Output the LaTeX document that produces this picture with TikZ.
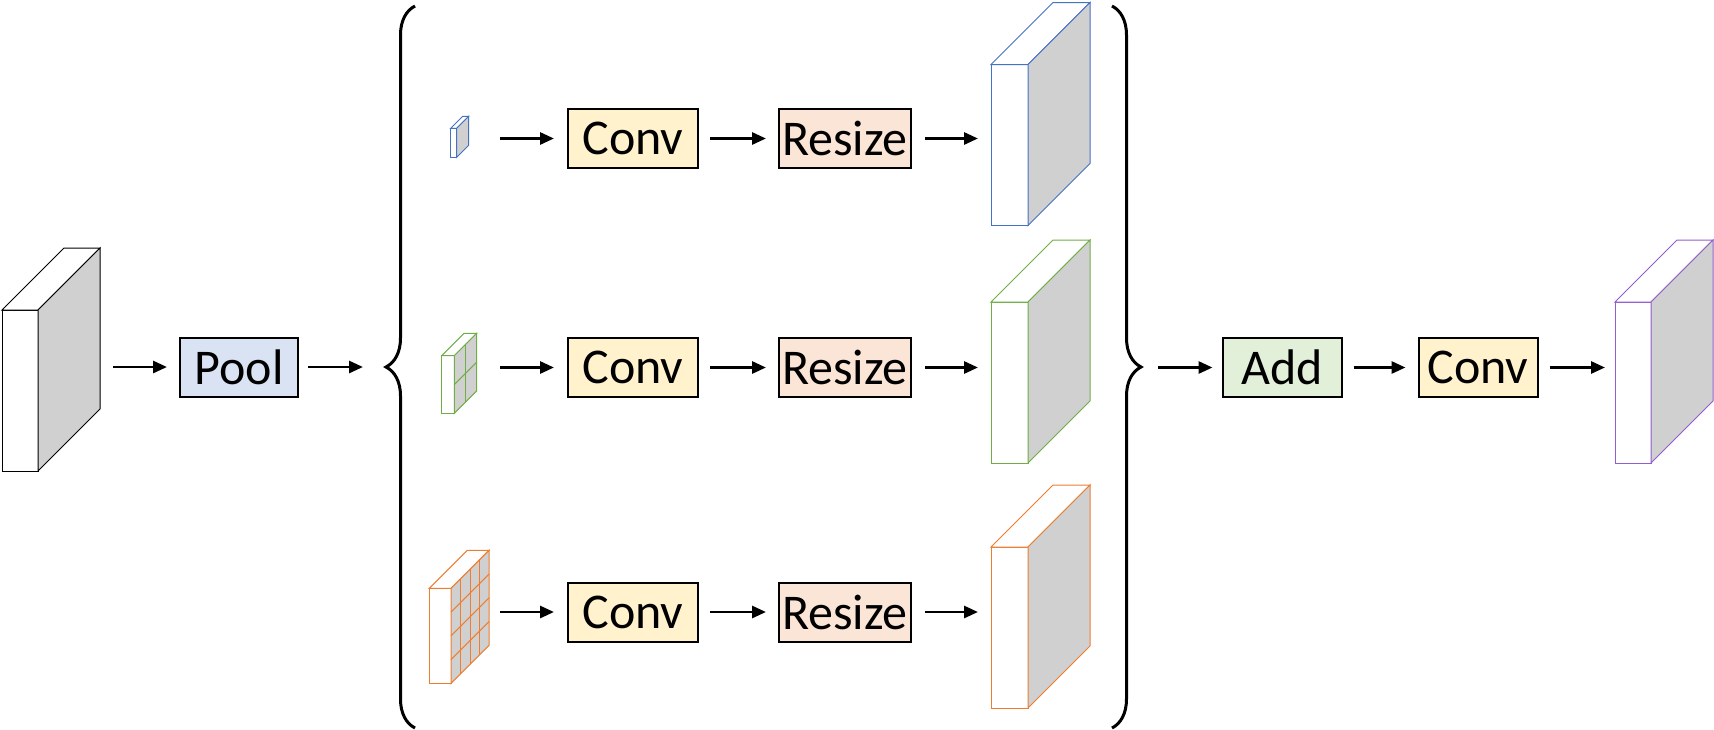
\documentclass[tikz,border=0pt]{standalone}
\usepackage{fontspec}
\setmainfont{Carlito}
\usepackage{tikz}
\usetikzlibrary{arrows.meta, decorations.pathreplacing}

\definecolor{poolblue}{RGB}{218,227,243}
\definecolor{convyellow}{RGB}{255,242,204}
\definecolor{resizered}{RGB}{251,229,214}
\definecolor{addgreen}{RGB}{226,240,217}
\definecolor{sidegray}{RGB}{208,208,208}
\definecolor{mapblue}{RGB}{68,114,196}
\definecolor{mapgreen}{RGB}{112,173,71}
\definecolor{maporange}{RGB}{237,125,49}
\definecolor{mappurple}{RGB}{146,94,204}

% 特徴マップ: x0, y0, 幅, 高さ, 奥行き, 色, 分割数
\newcommand{\fmap}[7]{%
  \begin{scope}[draw=#6, line width=0.5pt]
    \filldraw[fill=white] (#1,#2) rectangle ++(#3,#4);
    \filldraw[fill=white] (#1,#2) -- ++(#5,-#5) -- ++(#3,0) -- ++(-#5,#5) -- cycle;
    \filldraw[fill=sidegray] (#1+#3,#2) -- ++(#5,-#5) -- ++(0,#4) -- ++(-#5,#5) -- cycle;
    \ifnum#7>1
      \pgfmathtruncatemacro{\nsub}{#7-1}
      \foreach \i in {1,...,\nsub} {
        \draw (#1+#3+\i*#5/#7, #2-\i*#5/#7) -- ++(0,#4);
        \draw (#1+#3, #2+\i*#4/#7) -- ++(#5,-#5);
      }
    \fi
  \end{scope}}

\tikzset{
  opbox/.style={draw, line width=1pt, inner sep=0pt, minimum height=29.5pt,
    font=\fontsize{25}{29}\selectfont},
  arr/.style={-{Triangle[length=7pt,width=6pt]}, line width=1.4pt},
  gap/.style={shorten <=5.5pt, shorten >=6pt},
  bracket/.style={line width=1.5pt, decorate, decoration={brace, amplitude=14.5pt}}
}

\begin{document}
\begin{tikzpicture}[x=0.5pt, y=-0.5pt]
  \useasboundingbox (0,0) rectangle (1714,729);

  % 入力
  \fmap{2}{310}{36}{161}{62}{black}{1}
  \coordinate (inmap) at (113,367);
  \node[opbox, fill=poolblue, minimum width=59pt] (pool) at (239,367) {Pool};
  \coordinate (splitin) at (363,367);
  \draw[arr, shorten >=6pt] (inmap) -- (pool);
  \draw[arr, shorten <=4.5pt] (pool) -- (splitin);

  % 括弧
  \draw[bracket] (415,728) -- (415,6);
  \draw[bracket] (1112,6) -- (1112,728);

  % 分岐 a
  \fmap{450.7}{128.3}{6}{29}{12}{mapblue}{1}
  \coordinate (pa) at (500,138.5);
  \node[opbox, fill=convyellow, minimum width=65pt] (conva) at (633,138.5) {Conv};
  \node[opbox, fill=resizered, minimum width=66pt] (resizea) at (845,138.5) {Resize};
  \coordinate (ua) at (978,138.5);
  \fmap{991}{64.5}{37}{161}{62}{mapblue}{1}

  % 分岐 b
  \fmap{441.7}{355.7}{12.6}{57.6}{22.4}{mapgreen}{2}
  \coordinate (pb) at (500,367.5);
  \node[opbox, fill=convyellow, minimum width=65pt] (convb) at (633,367.5) {Conv};
  \node[opbox, fill=resizered, minimum width=66pt] (resizeb) at (845,367.5) {Resize};
  \coordinate (ub) at (978,367.5);
  \fmap{991}{302}{37}{161}{62}{mapgreen}{1}

  % 分岐 c
  \fmap{429.3}{588.3}{21.7}{95}{38}{maporange}{4}
  \coordinate (pc) at (500,612);
  \node[opbox, fill=convyellow, minimum width=65pt] (convc) at (633,612) {Conv};
  \node[opbox, fill=resizered, minimum width=66pt] (resizec) at (845,612) {Resize};
  \coordinate (uc) at (978,612);
  \fmap{991}{547}{37}{161}{62}{maporange}{1}

  \foreach \r in {a,b,c} {
    \draw[arr, shorten >=6.5pt] (p\r) -- (conv\r);
    \draw[arr, gap] (conv\r) -- (resize\r);
    \draw[arr, shorten <=6.5pt] (resize\r) -- (u\r);
  }

  % 合成
  \coordinate (mergeout) at (1158,367.5);
  \node[opbox, fill=addgreen, minimum width=59.5pt] (add) at (1282,367.5) {Add};
  \node[opbox, fill=convyellow, minimum width=59.5pt] (convout) at (1478,367.5) {Conv};
  \coordinate (outmap) at (1605,367.5);
  \draw[arr, shorten >=4.5pt] (mergeout) -- (add);
  \draw[arr, gap] (add) -- (convout);
  \draw[arr, shorten <=5.5pt] (convout) -- (outmap);
  \fmap{1615}{302}{36}{161}{62}{mappurple}{1}
\end{tikzpicture}
\end{document}
